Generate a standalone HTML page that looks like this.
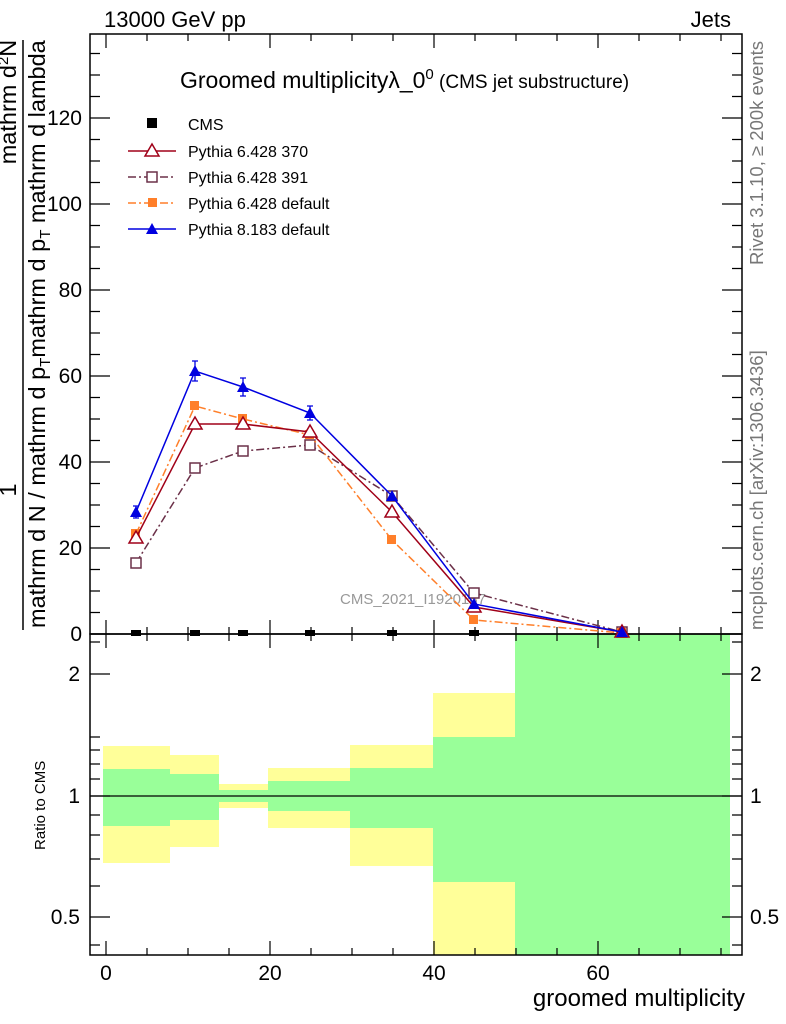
<!DOCTYPE html>
<html><head><meta charset="utf-8"><style>
body{margin:0;background:#fff;}
svg{display:block;font-family:"Liberation Sans",sans-serif;}
</style></head><body>
<svg width="786" height="1024" viewBox="0 0 786 1024">
<g shape-rendering="crispEdges">
<rect x="103" y="746" width="67" height="117" fill="#ffff99"/><rect x="103" y="769" width="67" height="57" fill="#99ff99"/>
<rect x="170" y="755" width="49" height="92" fill="#ffff99"/><rect x="170" y="774" width="49" height="46" fill="#99ff99"/>
<rect x="219" y="784" width="49" height="24" fill="#ffff99"/><rect x="219" y="790" width="49" height="12" fill="#99ff99"/>
<rect x="268" y="768" width="82" height="60" fill="#ffff99"/><rect x="268" y="781" width="82" height="30" fill="#99ff99"/>
<rect x="350" y="745" width="83" height="121" fill="#ffff99"/><rect x="350" y="768" width="83" height="60" fill="#99ff99"/>
<rect x="433" y="693" width="82" height="262" fill="#ffff99"/><rect x="433" y="737" width="82" height="145" fill="#99ff99"/>
<rect x="515" y="634" width="215" height="321" fill="#99ff99"/>
</g>
<line x1="90" y1="796" x2="742" y2="796" stroke="#000" stroke-width="1.3"/>
<rect x="90" y="34" width="652" height="600" fill="none" stroke="#000" stroke-width="1.5"/>
<rect x="90" y="634" width="652" height="321" fill="none" stroke="#000" stroke-width="1.5"/>
<g stroke="#000" stroke-width="1.2">
<path d="M90 634h20M90 548h20M90 462h20M90 376h20M90 290h20M90 204h20M90 118h20
M742 634h-20M742 548h-20M742 462h-20M742 376h-20M742 290h-20M742 204h-20M742 118h-20
M90 612.5h10M90 591h10M90 569.5h10M90 526.5h10M90 505h10M90 483.5h10M90 440.5h10M90 419h10M90 397.5h10M90 354.5h10M90 333h10M90 311.5h10M90 268.5h10M90 247h10M90 225.5h10M90 182.5h10M90 161h10M90 139.5h10M90 96.5h10M90 75h10M90 53.5h10
M742 612.5h-10M742 591h-10M742 569.5h-10M742 526.5h-10M742 505h-10M742 483.5h-10M742 440.5h-10M742 419h-10M742 397.5h-10M742 354.5h-10M742 333h-10M742 311.5h-10M742 268.5h-10M742 247h-10M742 225.5h-10M742 182.5h-10M742 161h-10M742 139.5h-10M742 96.5h-10M742 75h-10M742 53.5h-10"/>
<path d="M106 634v-14M270 634v-14M434 634v-14M598 634v-14M106 34v14M270 34v14M434 34v14M598 34v14
M147 634v-7M188 634v-7M229 634v-7M311 634v-7M352 634v-7M393 634v-7M475 634v-7M516 634v-7M557 634v-7M639 634v-7M680 634v-7M721 634v-7
M147 34v7M188 34v7M229 34v7M311 34v7M352 34v7M393 34v7M475 34v7M516 34v7M557 34v7M639 34v7M680 34v7M721 34v7"/>
<path d="M106 955v-14M270 955v-14M434 955v-14M598 955v-14M106 634v14M270 634v14M434 634v14M598 634v14
M147 955v-7M188 955v-7M229 955v-7M311 955v-7M352 955v-7M393 955v-7M475 955v-7M516 955v-7M557 955v-7M639 955v-7M680 955v-7M721 955v-7
M147 634v7M188 634v7M229 634v7M311 634v7M352 634v7M393 634v7M475 634v7M516 634v7M557 634v7M639 634v7M680 634v7M721 634v7"/>
<path d="M90 674h20M90 796h20M90 917h20M742 674h-20M742 796h-20M742 917h-20
M90 737h10M90 750h10M90 764h10M90 779h10M90 815h10M90 835h10M90 859h10M90 886h10M90 945h10
M742 737h-10M742 750h-10M742 764h-10M742 779h-10M742 815h-10M742 835h-10M742 859h-10M742 886h-10M742 945h-10
M90 642h10M742 642h-10"/>
</g>
<g font-size="21" fill="#000">
<text x="82" y="641" text-anchor="end">0</text>
<text x="82" y="555" text-anchor="end">20</text>
<text x="82" y="469" text-anchor="end">40</text>
<text x="82" y="383" text-anchor="end">60</text>
<text x="82" y="297" text-anchor="end">80</text>
<text x="82" y="211" text-anchor="end">100</text>
<text x="82" y="125" text-anchor="end">120</text>
<text x="80" y="681" text-anchor="end">2</text>
<text x="80" y="803" text-anchor="end">1</text>
<text x="80" y="924" text-anchor="end">0.5</text>
<text x="750" y="681">2</text>
<text x="750" y="803">1</text>
<text x="750" y="924">0.5</text>
<text x="106" y="980" text-anchor="middle">0</text>
<text x="270" y="980" text-anchor="middle">20</text>
<text x="434" y="980" text-anchor="middle">40</text>
<text x="598" y="980" text-anchor="middle">60</text>
<text x="745" y="1006" text-anchor="end" font-size="24">groomed multiplicity</text>
<text x="104" y="27" font-size="22">13000 GeV pp</text>
<text x="731" y="27" text-anchor="end" font-size="22">Jets</text>
</g>
<text x="180" y="88" font-size="23">Groomed multiplicityλ_0<tspan font-size="15" dy="-9">0</tspan><tspan font-size="19" dy="9"> (CMS jet substructure)</tspan></text>
<text x="340" y="604" font-size="15" fill="#999">CMS_2021_I1920187</text>
<text transform="translate(45 850) rotate(-90)" font-size="15">Ratio to CMS</text>
<g font-size="23.5">
<text transform="translate(45 628) rotate(-90)">mathrm d N / mathrm d p<tspan font-size="15" dy="5">T</tspan><tspan dy="-5">mathrm d p</tspan><tspan font-size="15" dy="5">T</tspan><tspan dy="-5"> mathrm d lambda</tspan></text>
<text transform="translate(16 490) rotate(-90)" text-anchor="middle">1</text>
<text transform="translate(16 102) rotate(-90)" text-anchor="middle">mathrm d<tspan font-size="15" dy="-8">2</tspan><tspan dy="8">N</tspan></text>
</g>
<line x1="23" y1="630" x2="23" y2="40" stroke="#000" stroke-width="1.5"/>
<g font-size="18.5" fill="#777">
<text transform="translate(763 265) rotate(-90)">Rivet 3.1.10, ≥ 200k events</text>
<text transform="translate(763 630) rotate(-90)">mcplots.cern.ch [arXiv:1306.3436]</text>
</g>
<g font-size="16">
<rect x="147" y="118" width="10" height="10" fill="#000"/><text x="188" y="130">CMS</text>
<line x1="128" y1="151" x2="176" y2="151" stroke="#a00018" stroke-width="1.5"/><path d="M152 144l7 12h-14z" fill="#fff" stroke="#a00018" stroke-width="1.5"/><text x="188" y="157">Pythia 6.428 370</text>
<line x1="128" y1="177" x2="176" y2="177" stroke="#6b3048" stroke-width="1.5" stroke-dasharray="8,3,2,3"/><rect x="147" y="172" width="10" height="10" fill="#fff" stroke="#6b3048" stroke-width="1.5"/><text x="188" y="183">Pythia 6.428 391</text>
<line x1="128" y1="203" x2="176" y2="203" stroke="#ff7f2a" stroke-width="1.5" stroke-dasharray="8,3,2,3"/><rect x="148" y="198" width="9" height="9" fill="#ff7f2a"/><text x="188" y="209">Pythia 6.428 default</text>
<line x1="128" y1="229" x2="176" y2="229" stroke="#0000e0" stroke-width="1.5"/><path d="M152 223l6 11h-12z" fill="#0000e0"/><text x="188" y="235">Pythia 8.183 default</text>
</g>
<g fill="#000"><rect x="131" y="630" width="10" height="6"/><rect x="190" y="630" width="10" height="6"/><rect x="238" y="630" width="10" height="6"/><rect x="305" y="630" width="10" height="6"/><rect x="387" y="630" width="10" height="6"/><rect x="469" y="630" width="10" height="6"/></g>
<polyline points="136,563 195,468 243,451 310,445 392,496 474,593 622,632" fill="none" stroke="#6b3048" stroke-width="1.5" stroke-dasharray="8,3,2,3"/>
<g fill="#fff" stroke="#6b3048" stroke-width="1.5"><rect x="131" y="558" width="10" height="10"/><rect x="190" y="463" width="10" height="10"/><rect x="238" y="446" width="10" height="10"/><rect x="305" y="440" width="10" height="10"/><rect x="387" y="491" width="10" height="10"/><rect x="469" y="588" width="10" height="10"/><rect x="617" y="627" width="10" height="10"/></g>
<polyline points="136,534 195,406 243,419 310,435 392,540 474,620 622,633" fill="none" stroke="#ff7f2a" stroke-width="1.5" stroke-dasharray="8,3,2,3"/>
<g fill="#ff7f2a"><rect x="131" y="529" width="9" height="9"/><rect x="190" y="401" width="9" height="9"/><rect x="238" y="414" width="9" height="9"/><rect x="305" y="430" width="9" height="9"/><rect x="387" y="535" width="9" height="9"/><rect x="469" y="615" width="9" height="9"/><rect x="617" y="628" width="9" height="9"/></g>
<polyline points="136,538 195,424 243,424 310,432 392,512 474,607 622,632" fill="none" stroke="#a00018" stroke-width="1.5"/>
<g fill="#fff" stroke="#a00018" stroke-width="1.5"><path d="M136 531l7 12h-14z"/><path d="M195 417l7 12h-14z"/><path d="M243 417l7 12h-14z"/><path d="M310 425l7 12h-14z"/><path d="M392 505l7 12h-14z"/><path d="M474 600l7 12h-14z"/><path d="M622 625l7 12h-14z"/></g>
<polyline points="136,512 195,371 243,387 310,413 392,496 474,604 622,632" fill="none" stroke="#0000e0" stroke-width="1.5"/>
<g stroke="#0000e0" stroke-width="1.3"><path d="M136 506v12M133 506h6M133 518h6M195 361v20M192 361h6M192 381h6M243 378v18M240 378h6M240 396h6M310 406v14M307 406h6M307 420h6M392 492v8"/></g>
<g fill="#0000e0"><path d="M136 506l6 11h-12z"/><path d="M195 365l6 11h-12z"/><path d="M243 381l6 11h-12z"/><path d="M310 407l6 11h-12z"/><path d="M392 490l6 11h-12z"/><path d="M474 598l6 11h-12z"/><path d="M622 626l6 11h-12z"/></g>
</svg>
</body></html>
